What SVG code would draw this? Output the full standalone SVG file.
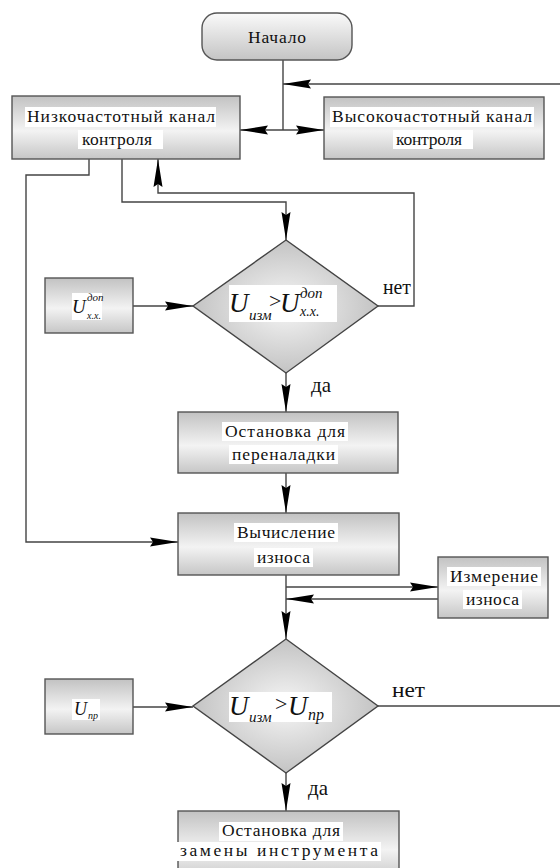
<svg xmlns="http://www.w3.org/2000/svg" width="560" height="868" viewBox="0 0 560 868">
<style>
.box{stroke:#555;stroke-width:1.4;fill:url(#gBox)}
.dia{stroke:#444;stroke-width:1.4;fill:url(#gDia)}
.ln{stroke:#444;stroke-width:1.4;fill:none}
.ar{marker-end:url(#ah)}
.t{font-family:"Liberation Serif","DejaVu Serif",serif;font-size:17.5px;fill:#111}
.lab{font-family:"Liberation Serif","DejaVu Serif",serif;font-size:21px;fill:#111}
.m{font-family:"Liberation Serif","DejaVu Serif",serif;font-style:italic;fill:#111}
.mu{font-family:"Liberation Serif","DejaVu Serif",serif;fill:#111}
.hl{fill:#fff}
</style>
<defs>
<linearGradient id="gBox" x1="0" y1="0" x2="0" y2="1">
<stop offset="0" stop-color="#c2c2c2"/>
<stop offset="0.55" stop-color="#f3f3f3"/>
<stop offset="1" stop-color="#c6c6c6"/>
</linearGradient>
<linearGradient id="gStart" x1="0" y1="0" x2="0" y2="1">
<stop offset="0" stop-color="#fafafa"/>
<stop offset="1" stop-color="#c4c4c4"/>
</linearGradient>
<radialGradient id="gDia" cx="0.5" cy="0.5" r="0.6">
<stop offset="0" stop-color="#f6f6f6"/>
<stop offset="1" stop-color="#b9b9b9"/>
</radialGradient>
<marker id="ah" markerUnits="userSpaceOnUse" viewBox="-32 -6 33 12" refX="0" refY="0" markerWidth="33" markerHeight="12" orient="auto">
<path d="M0,0 L-28,-4.5 L-25,0 L-28,4.5 Z" fill="#000"/>
</marker>
</defs>

<g id="connectors">
<line class="ln" x1="283" y1="60" x2="283" y2="130"/>
<line class="ln ar" x1="560" y1="84" x2="283" y2="84"/>
<line class="ln ar" x1="283" y1="130" x2="240" y2="130"/>
<line class="ln ar" x1="283" y1="130" x2="324" y2="130"/>
<polyline class="ln ar" points="122,159 122,202 286,202 286,240"/>
<polyline class="ln ar" points="378,306 414,306 414,193 158,193 158,159"/>
<polyline class="ln ar" points="89,159 89,175 26,175 26,542 178,542"/>
<line class="ln ar" x1="133" y1="306" x2="193" y2="306"/>
<line class="ln ar" x1="286" y1="373" x2="286" y2="412"/>
<line class="ln ar" x1="286" y1="473" x2="286" y2="513"/>
<line class="ln" x1="286" y1="575" x2="286" y2="600"/>
<line class="ln ar" x1="286" y1="587" x2="438" y2="587"/>
<line class="ln ar" x1="438" y1="599" x2="286" y2="599"/>
<line class="ln ar" x1="286" y1="600" x2="286" y2="639"/>
<line class="ln ar" x1="133" y1="707" x2="193" y2="707"/>
<line class="ln" x1="378" y1="706" x2="560" y2="706"/>
<line class="ln ar" x1="286" y1="773" x2="286" y2="811"/>
<text class="lab" x="383" y="294" textLength="28" lengthAdjust="spacingAndGlyphs">нет</text>
<text class="lab" x="311" y="392">да</text>
<text class="lab" x="392" y="697" textLength="33" lengthAdjust="spacingAndGlyphs">нет</text>
<text class="lab" x="308" y="795">да</text>
</g>

<g id="start">
<rect x="202" y="13" width="150" height="47" rx="15" fill="url(#gStart)" stroke="#555" stroke-width="1.4"/>
<text class="t" x="248" y="43" textLength="58">Начало</text>
</g>

<g id="lowfreq">
<rect class="box" x="12" y="96" width="228" height="63"/>
<rect class="hl" x="25" y="107" width="191" height="20"/>
<rect class="hl" x="78" y="130" width="85" height="19"/>
<text class="t" x="27" y="122" textLength="188">Низкочастотный канал</text>
<text class="t" x="82" y="145" textLength="70">контроля</text>
</g>

<g id="highfreq">
<rect class="box" x="324" y="97" width="220" height="62"/>
<rect class="hl" x="330" y="107" width="204" height="20"/>
<rect class="hl" x="393" y="130" width="80" height="19"/>
<text class="t" x="332" y="122" textLength="200">Высокочастотный канал</text>
<text class="t" x="396" y="145" textLength="66">контроля</text>
</g>

<g id="decision1">
<polygon class="dia" points="286,240 378,306 286,373 193,306"/>
<rect class="hl" x="229" y="285" width="108" height="37"/>
<text class="m" x="229" y="312" font-size="27">U</text>
<text class="m" x="249" y="320" font-size="15">изм</text>
<text class="mu" x="269" y="308" font-size="22">&gt;</text>
<text class="m" x="280" y="312" font-size="27">U</text>
<text class="m" x="300" y="298" font-size="15">доп</text>
<text class="m" x="300" y="316" font-size="14">x.x.</text>
</g>

<g id="uxx">
<rect class="box" x="45" y="278" width="88" height="55"/>
<rect class="hl" x="72" y="293" width="30" height="27"/>
<text class="m" x="72" y="313" font-size="19">U</text>
<text class="m" x="87" y="301" font-size="11">доп</text>
<text class="m" x="87" y="319" font-size="10">x.x.</text>
</g>

<g id="stop1">
<rect class="box" x="178" y="412" width="220" height="61"/>
<rect class="hl" x="222" y="422" width="126" height="19"/>
<rect class="hl" x="229" y="445" width="109" height="19"/>
<text class="t" x="225" y="437" textLength="120">Остановка для</text>
<text class="t" x="232" y="460" textLength="103">переналадки</text>
</g>

<g id="calc">
<rect class="box" x="178" y="513" width="221" height="62"/>
<rect class="hl" x="234" y="523" width="104" height="19"/>
<rect class="hl" x="254" y="548" width="59" height="19"/>
<text class="t" x="237" y="538" textLength="98">Вычисление</text>
<text class="t" x="257" y="563" textLength="53">износа</text>
</g>

<g id="measure">
<rect class="box" x="438" y="557" width="110" height="61"/>
<rect class="hl" x="447" y="567" width="94" height="19"/>
<rect class="hl" x="463" y="590" width="59" height="19"/>
<text class="t" x="450" y="582" textLength="88">Измерение</text>
<text class="t" x="466" y="605" textLength="53">износа</text>
</g>

<g id="decision2">
<polygon class="dia" points="286,639 378,706 286,773 193,706"/>
<rect class="hl" x="229" y="692" width="103" height="30"/>
<text class="m" x="229" y="715" font-size="27">U</text>
<text class="m" x="249" y="722" font-size="15">изм</text>
<text class="mu" x="275" y="711" font-size="22">&gt;</text>
<text class="m" x="288" y="715" font-size="27">U</text>
<text class="m" x="308" y="720" font-size="16">пр</text>
</g>

<g id="upr">
<rect class="box" x="45" y="679" width="88" height="55"/>
<rect class="hl" x="72" y="699" width="28" height="21"/>
<text class="m" x="74" y="715" font-size="18">U</text>
<text class="m" x="88" y="719" font-size="10">пр</text>
</g>

<g id="stop2">
<rect class="box" x="178" y="811" width="221" height="70"/>
<rect class="hl" x="219" y="822" width="124" height="19"/>
<rect class="hl" x="177" y="842" width="204" height="19"/>
<text class="t" x="222" y="836" textLength="118">Остановка для</text>
<text class="t" x="180" y="856" textLength="198">замены инструмента</text>
</g>
</svg>
